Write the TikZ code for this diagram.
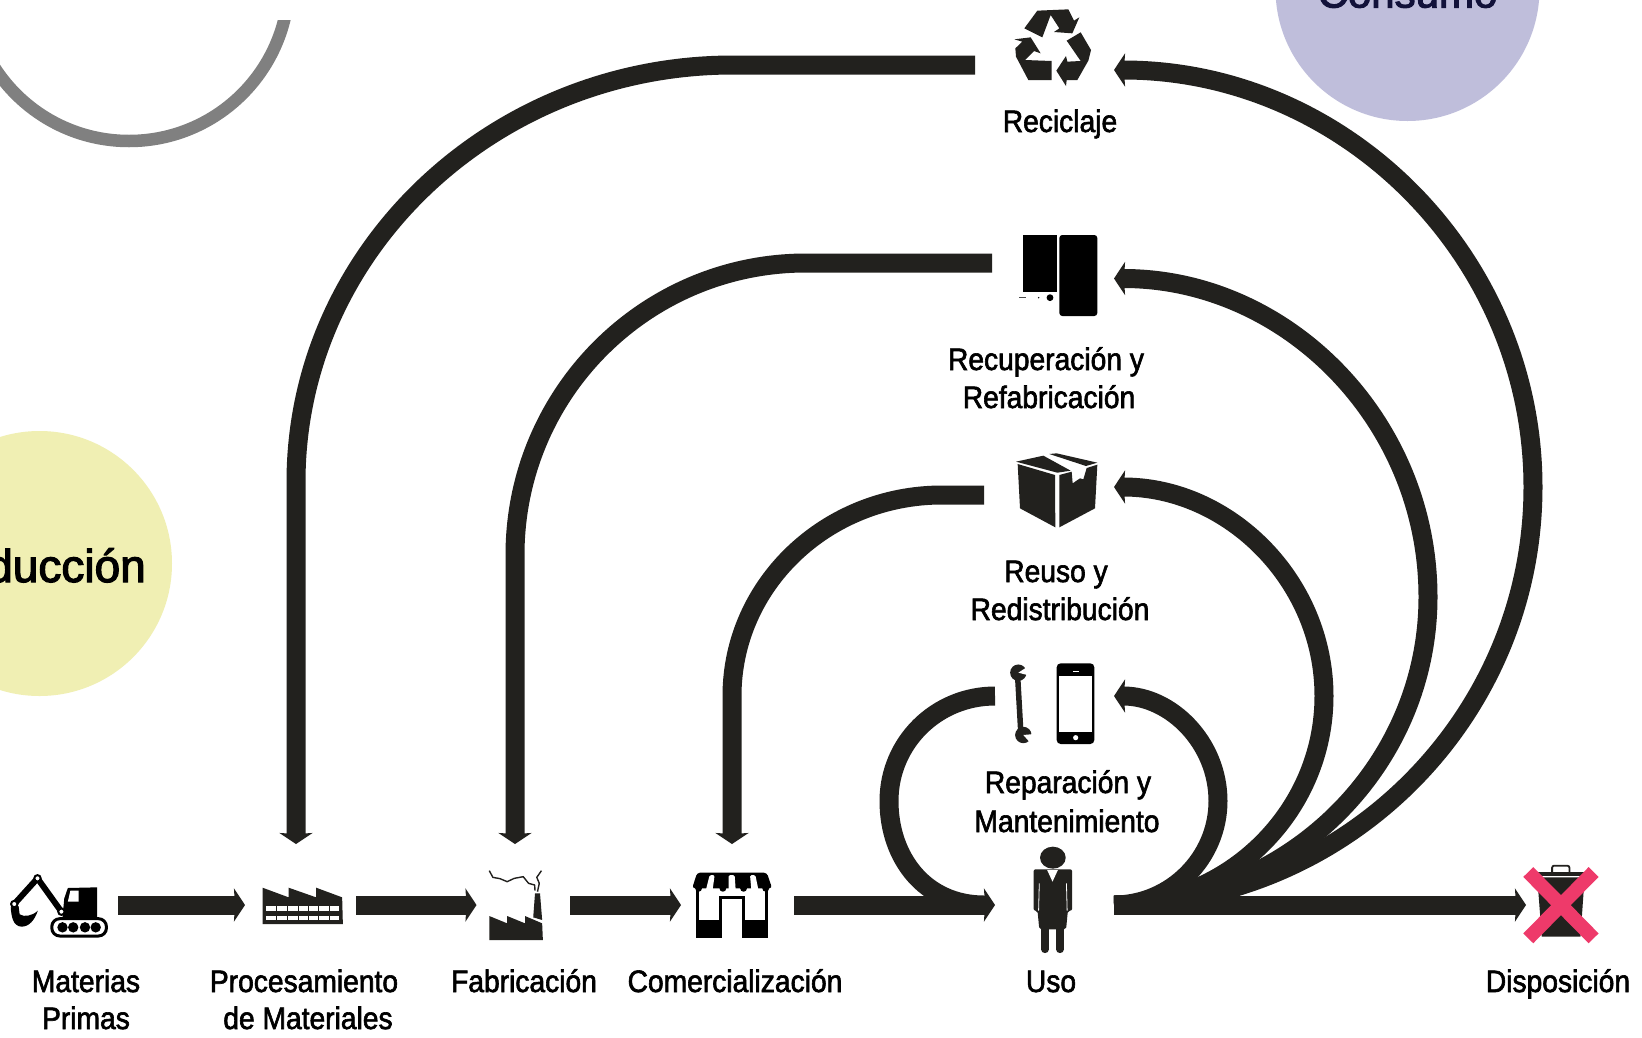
\documentclass[tikz,border=0pt]{standalone}
\usepackage{fontspec}
\usetikzlibrary{arrows.meta}
\newfontfamily\labfont[FakeStretch=0.91,FakeBold=2]{Liberation Sans}
\newfontfamily\bigfont[FakeBold=2.6]{Liberation Sans}
\definecolor{ink}{HTML}{22211E}
\definecolor{lilac}{HTML}{BFBEDB}
\definecolor{lemon}{HTML}{F0EFB3}
\definecolor{navy}{HTML}{12123A}
\definecolor{pink}{HTML}{EE3A6A}
\tikzset{
  flow/.style={line width=19pt,draw=ink},
  tipped/.style={flow,-{Stealth[length=11pt,width=33pt,inset=1pt]}},
  stage/.style={inner sep=0pt,outer sep=0pt,minimum width=#1,minimum height=122pt},
  lab/.style={anchor=base,inner sep=0pt,font=\labfont\fontsize{31}{36}\selectfont,text=black},
  zoomA/.style={x=0.35714pt,y=-0.33333pt},
  zoomB/.style={x=0.33333pt,y=-0.33333pt},
  zoomC/.style={x=0.34566pt,y=-0.33333pt},
}
\begin{document}
\begin{tikzpicture}[x=1pt,y=-1pt]
\useasboundingbox (0,0) rectangle (1642,1037);
\clip (0,0) rectangle (1642,1037);
\fill[white] (0,0) rectangle (1642,1037);

% background circles
\fill[lilac] (1407.5,-11) circle[radius=132];
\fill[lemon] (39.5,563.5) circle[radius=132.5];
\begin{scope}
  \clip (0,20) rectangle (320,170);
  \draw[line width=12.5pt,color=black!50] (129,-19) circle[radius=160];
\end{scope}
\node[anchor=base,inner sep=0pt,font=\bigfont\fontsize{42}{48}\selectfont,text=navy] (consumo) at (1407.5,7.5) {Consumo};
\node[anchor=base east,inner sep=0pt,font=\bigfont\fontsize{46}{52}\selectfont,text=black] (produccion) at (146,582) {Producción};

% invisible nodes framing each icon; their anchors are the connector ends
\node[stage=116pt] (mp) at (60,905) {};
\node[stage=111pt] (pm) at (300.5,905) {};
\node[stage=93.5pt] (fab) at (523.25,905) {};
\node[stage=113pt] (com) at (737.5,905) {};
\node[stage=119pt] (uso) at (1054.5,905) {};
\node[stage=68pt] (disp) at (1560,905) {};
\node[stage=139pt,minimum height=60pt] (rec) at (1044.5,65) {};
\node[stage=122pt,minimum height=60pt] (recu) at (1053,263) {};
\node[stage=130pt,minimum height=60pt] (reu) at (1049,495) {};
\node[stage=119pt,minimum height=60pt] (rep) at (1054.5,696) {};

% production chain
\draw[tipped] (mp.east) -- (pm.west);
\draw[tipped] (pm.east) -- (fab.west);
\draw[tipped] (fab.east) -- (com.west);
\draw[tipped] (com.east) -- (uso.west);
\draw[tipped] (uso.east) -- (disp.west);

% return loops, left side
\draw[tipped] (rec.west) -- (733,65) .. controls (492,65) and (296,252) .. (296,482) -- ([xshift=-4.5pt]pm.north);
\draw[tipped] (recu.west) -- (806,263) .. controls (645,263) and (515,394) .. (515,555) -- ([xshift=-8.25pt]fab.north);
\draw[tipped] (reu.west) -- (942,495) .. controls (826,495) and (732,585) .. (732,696) -- ([xshift=-5.5pt]com.north);
\draw[flow] (rep.west) .. controls (936,696) and (889,743) .. (889,801) .. controls (889,858) and (925,905) .. ([xshift=-11pt]uso.west);

% return loops, right side
\draw[tipped] (uso.east) .. controls (1345,905) and (1533,718) .. (1533,487) .. controls (1533,257) and (1345,70) .. ([yshift=-5pt]rec.east);
\draw[tipped] (uso.east) .. controls (1287,905) and (1428,767) .. (1428,597) .. controls (1428,421) and (1287,278.5) .. ([yshift=-15.5pt]recu.east);
\draw[tipped] (uso.east) .. controls (1229,905) and (1324,811) .. (1324,696) .. controls (1324,581) and (1229,487) .. ([yshift=8pt]reu.east);
\draw[tipped] (uso.east) .. controls (1171,905) and (1218,858) .. (1218,801) .. controls (1218,743) and (1171,696) .. (rep.east);

% excavator
\begin{scope}[shift={(0,820)},zoomA]
  \fill[black] (190,204) -- (272,202) -- (272,292) -- (175,292) -- (180,235) -- cycle;
  \fill[white] (197,212) -- (220,212) -- (220,245) -- (190,245) -- cycle;
  \draw[line width=3pt,fill=white,rounded corners=8pt] (145,296) rectangle (298,348);
  \foreach \wx in {175,205,238,268} \fill[black] (\wx,322) circle[radius=5.2pt];
  \draw[line width=6pt,line join=round] (172,275) -- (105,175) -- (40,252);
  \foreach \jx/\jy in {172/275,105/175,40/252} \draw[line width=2pt,fill=white] (\jx,\jy) circle[radius=3.2pt];
  \fill[black] (30,262) .. controls (32,290) and (36,318) .. (60,320) .. controls (82,320) and (97,300) .. (106,272) .. controls (90,288) and (68,292) .. (55,283) -- (52,258) -- cycle;
\end{scope}

% processing plant
\begin{scope}[shift={(0,820)},zoomA]
  \fill[ink] (735,203) -- (808,232) -- (808,203) -- (885,232) -- (885,203) -- (958,232) -- (960,312) -- (735,312) -- cycle;
  \fill[white] (745,257) rectangle (950,272);
  \fill[white] (745,287) rectangle (950,300);
  \foreach \tx in {775,805,835,865,893,922} \draw[ink,line width=1pt] (\tx,255) -- (\tx,302);
\end{scope}

% factory
\begin{scope}[shift={(0,820)},zoomA]
  \fill[ink] (1370,288) -- (1420,310) -- (1420,288) -- (1470,310) -- (1470,288) -- (1518,310) -- (1520,360) -- (1370,360) -- cycle;
  \fill[ink] (1498,220) -- (1512,220) -- (1518,300) -- (1493,292) -- cycle;
  \draw[ink,line width=1.4pt,line join=round] (1370,152) -- (1380,172) -- (1400,176) -- (1420,185) -- (1440,175) -- (1465,170) -- (1480,190) -- (1497,195) -- (1498,212);
  \draw[ink,line width=1.4pt,line join=round] (1516,152) -- (1503,172) -- (1510,190) -- (1505,215);
\end{scope}

% shop
\begin{scope}[shift={(540,820)},zoomA]
  \fill[black] (437,200) rectangle (638,355);
  \fill[white] (445,205) rectangle (630,300);
  \fill[black] (500,228) rectangle (575,300);
  \fill[black] (437,300) rectangle (638,355);
  \fill[white] (510,238) rectangle (565,355);
  \fill[black,rounded corners=3pt] (440,158) -- (635,158) -- (650,205) -- (426,205) -- cycle;
  \foreach \sx in {444,512,570,632} \fill[black] (\sx,205) circle[radius=3.4pt];
  \fill[white,rounded corners=1.5pt] (475,165) -- (489,165) -- (483,212) -- (464,212) -- cycle;
  \fill[white,rounded corners=1.5pt] (528,165) -- (545,165) -- (548,212) -- (528,212) -- cycle;
  \fill[white,rounded corners=1.5pt] (588,165) -- (603,165) -- (612,212) -- (592,212) -- cycle;
\end{scope}

% person
\begin{scope}[shift={(540,820)},zoomA]
  \fill[ink] (1436,113) ellipse[x radius=36,y radius=33];
  \fill[ink,rounded corners=2pt] (1382,272) -- (1382,148) -- (1490,148) -- (1490,272) -- (1478,272) -- (1473,328) -- (1398,328) -- (1393,272) -- cycle;
  \draw[white,line width=0.8pt] (1398,190) -- (1396,272);
  \draw[white,line width=0.8pt] (1474,190) -- (1476,272);
  \fill[white] (1420,150) -- (1450,150) -- (1435,185) -- cycle;
  \draw[ink,line width=7.5pt,line cap=round] (1414,325) -- (1414,388);
  \draw[ink,line width=7.5pt,line cap=round] (1456,325) -- (1456,388);
\end{scope}

% bin with cross
\begin{scope}[shift={(1100,820)},zoomC]
  \draw[ink,line width=1.8pt,rounded corners=2pt] (1308,160) -- (1308,137) -- (1358,137) -- (1358,160);
  \fill[ink] (1262,157) rectangle (1402,168);
  \fill[ink] (1265,172) -- (1402,172) -- (1390,350) -- (1278,350) -- cycle;
  \draw[pink,line width=14pt] (1239,156) -- (1428,355);
  \draw[pink,line width=14pt] (1428,156) -- (1239,355);
\end{scope}

% recycling symbol
\begin{scope}[shift={(960,0)},zoomB]
  \fill[ink] (193,85) -- (232,32) -- (325,28) -- (342,62) -- (358,52) -- (337,100) -- (282,96) -- (298,85) -- (272,45) -- (247,112) -- cycle;
  \fill[ink] (362,97) -- (393,150) -- (385,182) -- (352,240) -- (320,240) -- (318,258) -- (289,212) -- (318,168) -- (322,185) -- (362,183) -- (320,122) -- cycle;
  \fill[ink] (163,118) -- (212,112) -- (242,160) -- (222,153) -- (195,180) -- (275,183) -- (275,240) -- (205,240) -- (168,170) -- (166,145) -- (187,125) -- cycle;
\end{scope}

% remanufacturing symbol
\begin{scope}[shift={(960,0)},zoomB]
  \fill[black] (188,705) rectangle (290,875);
  \fill[black,rounded corners=3pt] (298,705) rectangle (412,948);
  \fill[black!70] (178,891) rectangle (198,895);
  \fill[black] (236,893) circle[radius=0.8pt];
  \fill[black] (270,893) circle[radius=3.4pt];
\end{scope}

% box
\begin{scope}[shift={(980,440)},zoomB]
  \fill[ink] (113,72) -- (225,105) -- (226,262) -- (120,205) -- cycle;
  \fill[ink] (238,105) -- (275,95) -- (278,130) -- (300,115) -- (310,118) -- (320,84) -- (352,74) -- (345,205) -- (238,262) -- cycle;
  \fill[ink] (108,65) -- (190,47) -- (272,92) -- (232,98) -- cycle;
  \fill[ink] (208,42) -- (230,40) -- (352,68) -- (318,78) -- cycle;
\end{scope}

% wrench and phone
\begin{scope}[shift={(900,660)},zoomB]
  \draw[ink,line width=5.5pt] (353,50) -- (362,210);
  \fill[ink] (355,38) circle[radius=8.2pt];
  \fill[white] (355,38) -- (386,18) -- (386,46) -- cycle;
  \fill[ink] (370,225) circle[radius=8.2pt];
  \fill[white] (370,225) -- (402,222) -- (394,252) -- cycle;
  \fill[black,rounded corners=4pt] (470,10) rectangle (583,252);
  \fill[white] (478,48) rectangle (575,215);
  \fill[white] (527,233) circle[radius=2.6pt];
  \fill[white] (518,32) rectangle (536,35);
\end{scope}

% labels
\node[lab] (t1) at (86,992) {Materias};
\node[lab] (t2) at (86,1029) {Primas};
\node[lab] (t3) at (304,992) {Procesamiento};
\node[lab] (t4) at (308,1029) {de Materiales};
\node[lab] (t5) at (524,992) {Fabricación};
\node[lab] (t6) at (735,992) {Comercialización};
\node[lab] (t7) at (1051,992) {Uso};
\node[lab] (t8) at (1558,992) {Disposición};
\node[lab] (t9) at (1060,132) {Reciclaje};
\node[lab] (t10) at (1046,370) {Recuperación y};
\node[lab] (t11) at (1049,408) {Refabricación};
\node[lab] (t12) at (1056,582) {Reuso y};
\node[lab] (t13) at (1060,620) {Redistribución};
\node[lab] (t14) at (1068,793) {Reparación y};
\node[lab] (t15) at (1067,832) {Mantenimiento};
\end{tikzpicture}
\end{document}
